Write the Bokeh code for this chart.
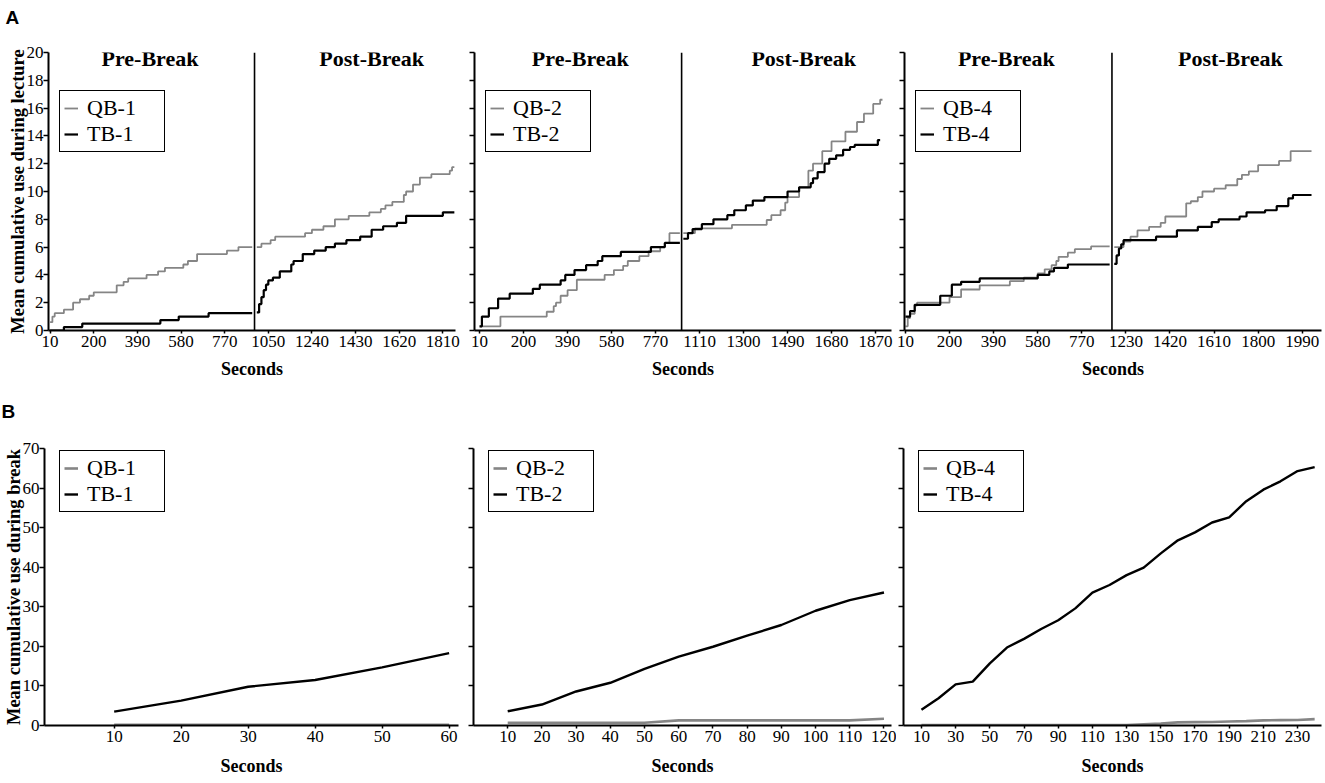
import numpy as np
from bokeh.plotting import figure
from bokeh.models import Range1d, FixedTicker, Span, Label, Legend, LegendItem
from bokeh.layouts import row, column
from bokeh.embed import file_html
from bokeh.resources import INLINE

# ---------------- data ----------------
# (A) cumulative use during lecture, step series: time (s) and mean value
# Lecture 1
QB1_PRE_T = [10, 20, 30, 70, 110, 140, 180, 200, 300, 330, 350, 430, 480, 510, 590, 610, 650, 780, 830, 890]
QB1_PRE_V = [0.6, 1.0, 1.25, 1.5, 2.0, 2.25, 2.5, 2.75, 3.25, 3.5, 3.75, 4.0, 4.25, 4.5, 4.75, 5.0, 5.5, 5.75, 6.0, 6.0]
TB1_PRE_T = [10, 70, 150, 490, 570, 700, 890]
TB1_PRE_V = [0.0, 0.25, 0.5, 0.75, 1.0, 1.25, 1.25]
QB1_POST_T = [1000, 1020, 1060, 1080, 1210, 1240, 1290, 1340, 1400, 1490, 1540, 1560, 1590, 1640, 1650, 1680, 1710, 1760, 1840, 1850, 1860]
QB1_POST_V = [6.0, 6.25, 6.5, 6.75, 7.0, 7.25, 7.5, 8.0, 8.25, 8.5, 8.75, 9.0, 9.25, 9.75, 10.0, 10.5, 11.0, 11.25, 11.5, 11.75, 11.75]
TB1_POST_T = [1000, 1010, 1020, 1030, 1040, 1050, 1070, 1100, 1150, 1160, 1200, 1250, 1300, 1340, 1390, 1450, 1500, 1550, 1610, 1650, 1810, 1860]
TB1_POST_V = [1.3, 1.9, 2.4, 2.9, 3.3, 3.6, 3.8, 4.25, 4.75, 5.0, 5.5, 5.75, 6.0, 6.25, 6.5, 6.75, 7.25, 7.5, 7.75, 8.25, 8.5, 8.5]
# Lecture 2
QB2_PRE_T = [10, 100, 300, 330, 340, 360, 390, 430, 550, 590, 630, 650, 700, 740, 790, 810, 830, 875]
QB2_PRE_V = [0.3, 1.0, 1.35, 1.75, 2.0, 2.5, 2.9, 3.65, 4.0, 4.35, 4.65, 5.0, 5.35, 5.7, 6.0, 6.3, 7.0, 7.0]
TB2_PRE_T = [10, 20, 50, 90, 140, 240, 270, 360, 380, 420, 470, 520, 540, 620, 750, 810, 875]
TB2_PRE_V = [0.3, 1.0, 1.6, 2.3, 2.65, 3.0, 3.3, 3.6, 4.0, 4.35, 4.7, 5.0, 5.35, 5.65, 6.0, 6.3, 6.3]
QB2_POST_T = [1040, 1090, 1250, 1400, 1420, 1460, 1480, 1490, 1540, 1580, 1600, 1640, 1680, 1740, 1790, 1820, 1860, 1890, 1900]
QB2_POST_V = [7.0, 7.35, 7.6, 7.95, 8.3, 8.65, 9.2, 9.6, 10.3, 11.5, 12.0, 12.9, 13.6, 14.3, 15.0, 15.6, 16.3, 16.6, 16.6]
TB2_POST_T = [1040, 1060, 1080, 1120, 1170, 1230, 1260, 1310, 1340, 1390, 1490, 1540, 1590, 1600, 1620, 1650, 1670, 1700, 1730, 1760, 1780, 1880, 1890]
TB2_POST_V = [6.6, 7.0, 7.3, 7.65, 8.0, 8.3, 8.65, 9.0, 9.35, 9.6, 10.0, 10.3, 10.6, 10.95, 11.4, 12.0, 12.35, 12.6, 13.0, 13.2, 13.35, 13.7, 13.7]
# Lecture 4
QB4_PRE_T = [10, 20, 30, 50, 60, 200, 250, 330, 460, 520, 580, 610, 640, 660, 670, 710, 740, 810, 890]
QB4_PRE_V = [0.3, 0.9, 1.2, 1.8, 2.0, 2.4, 2.95, 3.25, 3.55, 3.8, 4.1, 4.4, 4.7, 5.0, 5.3, 5.6, 5.85, 6.05, 6.05]
TB4_PRE_T = [10, 30, 50, 160, 210, 250, 330, 580, 630, 650, 710, 890]
TB4_PRE_V = [1.0, 1.4, 1.85, 2.5, 3.3, 3.5, 3.75, 4.0, 4.25, 4.5, 4.75, 4.75]
QB4_POST_T = [1180, 1220, 1250, 1280, 1330, 1380, 1400, 1490, 1510, 1540, 1560, 1610, 1660, 1710, 1730, 1760, 1800, 1890, 1940, 2030]
QB4_POST_V = [6.0, 6.4, 6.75, 7.2, 7.45, 7.75, 8.2, 9.15, 9.3, 9.6, 10.0, 10.2, 10.45, 10.9, 11.2, 11.45, 11.9, 12.2, 12.9, 12.9]
TB4_POST_T = [1180, 1190, 1200, 1210, 1220, 1360, 1450, 1540, 1600, 1630, 1720, 1750, 1830, 1880, 1930, 1950, 2030]
TB4_POST_V = [4.8, 5.4, 5.9, 6.2, 6.5, 6.75, 7.2, 7.45, 7.8, 8.0, 8.2, 8.5, 8.65, 8.95, 9.5, 9.75, 9.75]

# end of pre-break data and seconds skipped on the axis for each lecture
PRE_END = [900, 880, 900]
AXIS_GAP = [90, 150, 270]
A1_TICKS = [10, 200, 390, 580, 770, 1050, 1240, 1430, 1620, 1810]
A2_TICKS = [10, 200, 390, 580, 770, 1110, 1300, 1490, 1680, 1870]
A4_TICKS = [10, 200, 390, 580, 770, 1230, 1420, 1610, 1800, 1990]

# (B) cumulative use during break
BRK1_T = [10, 20, 30, 40, 50, 60]
QB1_BRK = [0.2, 0.2, 0.2, 0.2, 0.2, 0.2]
TB1_BRK = [3.5, 6.3, 9.8, 11.5, 14.7, 18.3]
BRK2_T = [10, 20, 30, 40, 50, 60, 70, 80, 90, 100, 110, 120]
QB2_BRK = [0.7, 0.7, 0.7, 0.7, 0.7, 1.3, 1.3, 1.3, 1.3, 1.3, 1.3, 1.7]
TB2_BRK = [3.6, 5.3, 8.6, 10.8, 14.3, 17.4, 19.9, 22.7, 25.4, 29.0, 31.7, 33.6]
BRK4_T = [10, 20, 30, 40, 50, 60, 70, 80, 90, 100, 110, 120, 130, 140, 150, 160, 170, 180, 190, 200, 210, 220, 230, 240]
QB4_BRK = [0.1, 0.1, 0.1, 0.1, 0.1, 0.1, 0.1, 0.1, 0.1, 0.1, 0.1, 0.1, 0.1, 0.3, 0.5, 0.8, 0.85, 0.9, 1.0, 1.1, 1.3, 1.35, 1.4, 1.6]
TB4_BRK = [4.0, 6.9, 10.4, 11.1, 15.7, 19.7, 21.9, 24.4, 26.6, 29.6, 33.6, 35.5, 38.0, 39.9, 43.5, 46.8, 48.8, 51.3, 52.6, 56.7, 59.6, 61.7, 64.3, 65.3]
B1_TICKS = [10, 20, 30, 40, 50, 60]
B2_TICKS = [10, 20, 30, 40, 50, 60, 70, 80, 90, 100, 110, 120]
B4_TICKS = [10, 30, 50, 70, 90, 110, 130, 150, 170, 190, 210, 230]
A_YTICKS = [0, 2, 4, 6, 8, 10, 12, 14, 16, 18, 20]
B_YTICKS = [0, 10, 20, 30, 40, 50, 60, 70]

# ---------------- styling ----------------
SERIF = "Liberation Serif"
SANS = "Liberation Sans"
GRAY = "#858585"
BLACK = "#000000"

A_TOP, A_FRAME, A_BOT = 52, 278, 55
B_TOP, B_FRAME, B_BOT = 63, 277, 58


def style(p, show_ylabels, yticks, ytitle, xlabel_standoff):
    p.outline_line_color = None
    p.xgrid.visible = False
    p.ygrid.visible = False
    for ax in (p.xaxis[0], p.yaxis[0]):
        ax.axis_line_width = 2
        ax.axis_line_color = BLACK
        ax.major_tick_line_width = 1.5
        ax.major_tick_line_color = BLACK
        ax.major_tick_in = 0
        ax.minor_tick_line_color = None
        ax.major_label_text_font = SERIF
        ax.major_label_text_font_size = "17px"
        ax.major_label_text_color = BLACK
    p.xaxis.major_tick_out = 3
    p.yaxis.major_tick_out = 5
    p.xaxis.major_label_standoff = 2
    p.yaxis.major_label_standoff = 0
    p.yaxis.ticker = FixedTicker(ticks=yticks)
    if not show_ylabels:
        p.yaxis.major_label_overrides = {t: "" for t in yticks}
    else:
        p.yaxis.axis_label = ytitle
        p.yaxis.axis_label_text_font = SERIF
        p.yaxis.axis_label_text_font_style = "bold"
        p.yaxis.axis_label_text_font_size = "18.5px"
        p.yaxis.axis_label_text_color = BLACK
        p.yaxis.axis_label_standoff = -4
    p.xaxis.axis_label = "Seconds"
    p.xaxis.axis_label_text_font = SERIF
    p.xaxis.axis_label_text_font_style = "bold"
    p.xaxis.axis_label_text_font_size = "18px"
    p.xaxis.axis_label_text_color = BLACK
    p.xaxis.axis_label_standoff = xlabel_standoff


def panel_letter(p, letter, offset, standoff):
    # a two-line title keeps the bold letter high in the top border
    p.title.text = letter + "\n "
    p.title.align = "left"
    p.title.vertical_align = "top"
    p.title.offset = offset
    p.title.text_font = SANS
    p.title.text_font_style = "bold"
    p.title.text_font_size = "19px"
    p.title.text_color = BLACK
    p.title.standoff = standoff


def add_legend(p, items, loc):
    lg = Legend(items=items, location=loc)
    lg.border_line_color = BLACK
    lg.border_line_alpha = 1.0
    lg.border_line_width = 1.5
    lg.background_fill_color = "white"
    lg.background_fill_alpha = 1
    lg.label_text_font = SERIF
    lg.label_text_font_size = "22px"
    lg.label_text_color = BLACK
    lg.glyph_width = 14
    lg.glyph_height = 16
    lg.label_standoff = 9
    lg.label_width = 73
    lg.label_height = 20
    lg.padding = 4
    lg.spacing = 0
    lg.margin = 0
    p.add_layout(lg, "center")


def lecture_panel(k, qb, tb, ticks, xr, left, frame_w, right, show_y):
    pre_end, gap = PRE_END[k], AXIS_GAP[k]

    def pos(t):
        t = np.asarray(t, float)
        return np.where(t > pre_end, t - gap, t)

    p = figure(width=left + frame_w + right, height=A_TOP + A_FRAME + A_BOT,
               x_range=Range1d(*xr), y_range=Range1d(0, 20),
               output_backend="svg", toolbar_location=None,
               min_border_left=left, min_border_right=right,
               min_border_top=A_TOP, min_border_bottom=A_BOT)
    style(p, show_y, A_YTICKS, "Mean cumulative use during lecture", 9)
    tick_pos = [float(v) for v in pos(ticks)]
    p.xaxis.ticker = FixedTicker(ticks=tick_pos)
    p.xaxis.major_label_overrides = {tp: str(t) for tp, t in zip(tick_pos, ticks)}

    (qn, qpre_t, qpre_v, qpost_t, qpost_v) = qb
    (tn, tpre_t, tpre_v, tpost_t, tpost_v) = tb
    r_q = p.step(pos(qpre_t), qpre_v, mode="after", line_color=GRAY, line_width=1.8)
    p.step(pos(qpost_t), qpost_v, mode="after", line_color=GRAY, line_width=1.8)
    r_t = p.step(pos(tpre_t), tpre_v, mode="after", line_color=BLACK, line_width=2.2)
    p.step(pos(tpost_t), tpost_v, mode="after", line_color=BLACK, line_width=2.2)

    brk = (float(pos([tpre_t[-1]])[0]) + float(pos([tpost_t[0]])[0])) / 2
    p.add_layout(Span(location=brk, dimension="height", line_color=BLACK, line_width=1.6))
    for txt, xp in (("Pre-Break", 445), ("Post-Break", 1410)):
        p.add_layout(Label(x=xp, y=19.6, text=txt, text_align="center", text_baseline="middle",
                           text_font=SERIF, text_font_style="bold", text_font_size="22px",
                           text_color=BLACK))
    add_legend(p, [LegendItem(label=qn, renderers=[r_q]), LegendItem(label=tn, renderers=[r_t])], (11, 178))
    return p


def break_panel(qn, tn, t, qv, tv, ticks, xr, left, frame_w, right, show_y):
    p = figure(width=left + frame_w + right, height=B_TOP + B_FRAME + B_BOT,
               x_range=Range1d(*xr), y_range=Range1d(0, 70),
               output_backend="svg", toolbar_location=None,
               min_border_left=left, min_border_right=right,
               min_border_top=B_TOP, min_border_bottom=B_BOT)
    style(p, show_y, B_YTICKS, "Mean cumulative use during break", 11)
    p.xaxis.ticker = FixedTicker(ticks=ticks)
    r_q = p.line(t, qv, line_color=GRAY, line_width=2.6)
    r_t = p.line(t, tv, line_color=BLACK, line_width=2.4)
    add_legend(p, [LegendItem(label=qn, renderers=[r_q]), LegendItem(label=tn, renderers=[r_t])], (15, 213))
    return p


# ---------------- row A ----------------
a1 = lecture_panel(0, ("QB-1", QB1_PRE_T, QB1_PRE_V, QB1_POST_T, QB1_POST_V),
                   ("TB-1", TB1_PRE_T, TB1_PRE_V, TB1_POST_T, TB1_POST_V),
                   A1_TICKS, (3, 1775), 48, 407, 5, True)
a2 = lecture_panel(1, ("QB-2", QB2_PRE_T, QB2_PRE_V, QB2_POST_T, QB2_POST_V),
                   ("TB-2", TB2_PRE_T, TB2_PRE_V, TB2_POST_T, TB2_POST_V),
                   A2_TICKS, (-12, 1789), 14, 417, 5, False)
a3 = lecture_panel(2, ("QB-4", QB4_PRE_T, QB4_PRE_V, QB4_POST_T, QB4_POST_V),
                   ("TB-4", TB4_PRE_T, TB4_PRE_V, TB4_POST_T, TB4_POST_V),
                   A4_TICKS, (6, 1803), 8, 417, 3, False)
panel_letter(a1, "A", -43, 3)

# ---------------- row B ----------------
b1 = break_panel("QB-1", "TB-1", BRK1_T, QB1_BRK, TB1_BRK, B1_TICKS, (-0.4, 61.4), 44, 414, 5, True)
b2 = break_panel("QB-2", "TB-2", BRK2_T, QB2_BRK, TB2_BRK, B2_TICKS, (0, 122.2), 10, 418, 5, False)
b3 = break_panel("QB-4", "TB-4", BRK4_T, QB4_BRK, TB4_BRK, B4_TICKS, (-0.5, 244), 7, 418, 3, False)
panel_letter(b1, "B", -43, 7)

layout = column(row(a1, a2, a3), row(b1, b2, b3))
open("out.html", "w").write(file_html(layout, INLINE))
